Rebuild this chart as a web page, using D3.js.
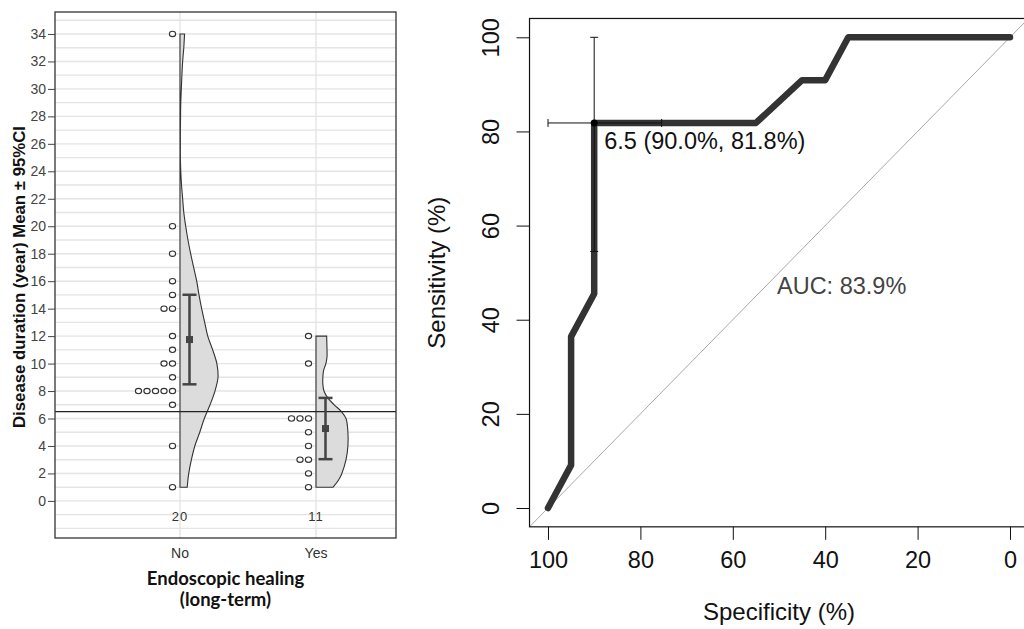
<!DOCTYPE html>
<html>
<head>
<meta charset="utf-8">
<script src="https://cdn.jsdelivr.net/npm/d3@7"></script>
<style>
  body { margin: 0; background: #fff; }
  svg { display: block; }
</style>
</head>
<body>
<div id="chart"></div>
<script>
// ---- data: left panel (raincloud) ----
const groups = ['No', 'Yes'];
const noValues = [34, 20, 18, 16, 15, 14, 14, 12, 11, 10, 10, 9, 8, 8, 8, 8, 8, 7, 4, 1];
const yesValues = [12, 10, 6, 6, 6, 5, 4, 3, 3, 2, 1];
const groupN = [20, 11];
const groupMean = [11.75, 5.27];
const ciLower = [8.49, 3.04];
const ciUpper = [15.01, 7.50];
const cutoff = 6.5;
const leftTicks = [0, 2, 4, 6, 8, 10, 12, 14, 16, 18, 20, 22, 24, 26, 28, 30, 32, 34];

// half-violin outline (value, relative density)
const noDensityAt = [1, 2, 3, 4, 5, 6, 7, 8, 9, 10, 11, 12, 13, 14, 15, 16, 17, 18, 19, 20, 21, 22, 23, 24, 25, 26, 27, 28, 29, 30, 31, 32, 33, 34];
const noDensity = [0.19, 0.23, 0.30, 0.39, 0.52, 0.64, 0.79, 0.92, 1.0, 0.97, 0.86, 0.73, 0.65, 0.57, 0.50, 0.44, 0.36, 0.28, 0.21, 0.15, 0.10, 0.07, 0.04, 0.02, 0.01, 0.01, 0.01, 0.015, 0.02, 0.035, 0.05, 0.07, 0.10, 0.12];
const yesDensityAt = [1, 1.5, 2, 3, 4, 5, 6, 6.5, 7, 7.5, 8, 8.5, 9, 9.5, 10, 10.5, 11, 12];
const yesDensity = [0.45, 0.59, 0.68, 0.79, 0.84, 0.84, 0.79, 0.67, 0.48, 0.31, 0.21, 0.18, 0.18, 0.20, 0.26, 0.29, 0.29, 0.28];

// ---- data: right panel (ROC) ----
const rocSpecificity = [100, 95, 95, 90, 90, 55, 45, 40, 35, 0];
const rocSensitivity = [0, 9.1, 36.4, 45.5, 81.8, 81.8, 90.9, 90.9, 100, 100];
const rocTicks = [0, 20, 40, 60, 80, 100];
const thresholdPoint = { spec: 90, sens: 81.8, label: '6.5 (90.0%, 81.8%)' };
const thresholdSpecCI = [75.4, 100];
const thresholdSensCI = [54.5, 100];
const aucLabel = 'AUC: 83.9%';

const svg = d3.select('#chart').append('svg')
  .attr('width', 1024)
  .attr('height', 629);

// ================= left panel =================
const frameL = { left: 55, right: 396, top: 12, bottom: 538 };
const yL = d3.scaleLinear().domain([-2.7, 35.6]).range([frameL.bottom, frameL.top]);
const xL = d3.scalePoint().domain(groups).range([180, 316]);
const wL = d3.scaleLinear().domain([0, 1]).range([0, 38]);
const fontL = 'Liberation Sans, Arial, sans-serif';

const left = svg.append('g');

// grid
left.selectAll('.hgrid')
  .data(d3.range(-2, 36))
  .join('line')
  .attr('x1', frameL.left).attr('x2', frameL.right)
  .attr('y1', d => yL(d)).attr('y2', d => yL(d))
  .attr('stroke', '#e4e4e4').attr('stroke-width', 1.4);

left.selectAll('.vgrid')
  .data(groups)
  .join('line')
  .attr('x1', d => xL(d)).attr('x2', d => xL(d))
  .attr('y1', frameL.top).attr('y2', frameL.bottom)
  .attr('stroke', '#e4e4e4').attr('stroke-width', 1.4);

// half violins
const violins = [
  { g: 'No', at: noDensityAt, d: noDensity },
  { g: 'Yes', at: yesDensityAt, d: yesDensity }
];
violins.forEach(v => {
  const x0 = xL(v.g);
  const pts = v.at.map((a, i) => [x0 + wL(v.d[i]), yL(a)]);
  const area = d3.line().curve(d3.curveCatmullRom)(pts);
  const top = pts[pts.length - 1];
  const bot = pts[0];
  left.append('path')
    .attr('d', `M${x0},${bot[1]}` + 'L' + area.slice(1) + `L${x0},${top[1]}Z`)
    .attr('fill', '#dcdcdc')
    .attr('stroke', '#333')
    .attr('stroke-width', 1.1);
});

// cutoff line
left.append('line')
  .attr('x1', frameL.left).attr('x2', frameL.right)
  .attr('y1', yL(cutoff)).attr('y2', yL(cutoff))
  .attr('stroke', '#222').attr('stroke-width', 1.2);

// dots (stacked to the left of each group)
[noValues, yesValues].forEach((vals, gi) => {
  const counts = {};
  vals.forEach(v => {
    const k = counts[v] || 0;
    counts[v] = k + 1;
    left.append('ellipse')
      .attr('cx', xL(groups[gi]) - 7.5 - k * 8.5)
      .attr('cy', yL(v))
      .attr('rx', 3.1)
      .attr('ry', 2.7)
      .attr('fill', '#fff')
      .attr('stroke', '#333')
      .attr('stroke-width', 1.1);
  });
});

// mean + CI
groups.forEach((g, i) => {
  const cx = xL(g) + 9.5;
  const eb = left.append('g').attr('stroke', '#444').attr('stroke-width', 2.5);
  eb.append('line').attr('x1', cx).attr('x2', cx).attr('y1', yL(ciLower[i])).attr('y2', yL(ciUpper[i]));
  eb.append('line').attr('x1', cx - 7).attr('x2', cx + 7).attr('y1', yL(ciLower[i])).attr('y2', yL(ciLower[i]));
  eb.append('line').attr('x1', cx - 7).attr('x2', cx + 7).attr('y1', yL(ciUpper[i])).attr('y2', yL(ciUpper[i]));
  left.append('rect')
    .attr('x', cx - 3.5).attr('y', yL(groupMean[i]) - 3.5)
    .attr('width', 7).attr('height', 7)
    .attr('fill', '#444');
  left.append('text')
    .attr('x', xL(g)).attr('y', yL(-1.15))
    .attr('dy', '0.35em')
    .attr('text-anchor', 'middle')
    .attr('font-family', fontL)
    .attr('font-size', 13)
    .attr('letter-spacing', 1)
    .attr('fill', '#333')
    .text(groupN[i]);
});

// frame
left.append('rect')
  .attr('x', frameL.left).attr('y', frameL.top)
  .attr('width', frameL.right - frameL.left).attr('height', frameL.bottom - frameL.top)
  .attr('fill', 'none').attr('stroke', '#333').attr('stroke-width', 1.3);

// y axis
const yAxisL = left.append('g')
  .attr('transform', `translate(${frameL.left},0)`)
  .call(d3.axisLeft(yL).tickValues(leftTicks).tickSize(7).tickPadding(2));
yAxisL.select('.domain').remove();
yAxisL.selectAll('line').attr('stroke', '#444');
yAxisL.selectAll('text')
  .attr('font-family', fontL)
  .attr('font-size', 14)
  .attr('fill', '#444');

// x labels
left.selectAll('.xlab')
  .data(groups)
  .join('text')
  .attr('x', d => xL(d)).attr('y', 553)
  .attr('dy', '0.35em')
  .attr('text-anchor', 'middle')
  .attr('font-family', fontL)
  .attr('font-size', 14)
  .attr('fill', '#333')
  .text(d => d);

// axis titles
const midL = (frameL.left + frameL.right) / 2;
['Endoscopic healing', '(long-term)'].forEach((t, i) => {
  left.append('text')
    .attr('x', midL).attr('y', 585 + i * 21)
    .attr('text-anchor', 'middle')
    .attr('font-family', 'Lato, Carlito, sans-serif')
    .attr('font-weight', 'bold')
    .attr('font-size', 18.5)
    .attr('fill', '#111')
    .text(t);
});

left.append('text')
  .attr('transform', `translate(25,${(frameL.top + frameL.bottom) / 2 + 2}) rotate(-90)`)
  .attr('text-anchor', 'middle')
  .attr('font-family', fontL)
  .attr('font-weight', 'bold')
  .attr('font-size', 16.8)
  .attr('fill', '#111')
  .text('Disease duration (year) Mean \u00b1 95%CI');

// ================= right panel (ROC) =================
const xR = d3.scaleLinear().domain([100, 0]).range([548, 1010]);
const yR = d3.scaleLinear().domain([0, 100]).range([508, 37.3]);
const right = svg.append('g');
const fontR = 'Liberation Sans, Arial, sans-serif';

// clip to plotting box
right.append('clipPath').attr('id', 'rocclip')
  .append('rect')
  .attr('x', xR(104)).attr('y', yR(104))
  .attr('width', xR(-4) - xR(104)).attr('height', yR(-4) - yR(104));

const plot = right.append('g').attr('clip-path', 'url(#rocclip)');

// chance diagonal
plot.append('line')
  .attr('x1', xR(104)).attr('y1', yR(-4))
  .attr('x2', xR(-4)).attr('y2', yR(104))
  .attr('stroke', '#a8a8a8').attr('stroke-width', 1);

// ROC curve
const rocData = rocSpecificity.map((s, i) => ({ spec: s, sens: rocSensitivity[i] }));
plot.append('path')
  .datum(rocData)
  .attr('d', d3.line().x(d => xR(d.spec)).y(d => yR(d.sens)))
  .attr('fill', 'none')
  .attr('stroke', '#333')
  .attr('stroke-width', 6.5)
  .attr('stroke-linejoin', 'round')
  .attr('stroke-linecap', 'round');

// threshold CI crosses
const tx = xR(thresholdPoint.spec), ty = yR(thresholdPoint.sens);
const ci = plot.append('g').attr('stroke', '#111').attr('stroke-width', 1);
ci.append('line').attr('x1', xR(thresholdSpecCI[1])).attr('x2', xR(thresholdSpecCI[0])).attr('y1', ty).attr('y2', ty);
ci.append('line').attr('x1', tx).attr('x2', tx).attr('y1', yR(thresholdSensCI[0])).attr('y2', yR(thresholdSensCI[1]));
thresholdSpecCI.forEach(s => ci.append('line').attr('x1', xR(s)).attr('x2', xR(s)).attr('y1', ty - 4).attr('y2', ty + 4));
thresholdSensCI.forEach(s => ci.append('line').attr('x1', tx - 4).attr('x2', tx + 4).attr('y1', yR(s)).attr('y2', yR(s)));
plot.append('circle').attr('cx', tx).attr('cy', ty).attr('r', 3.5).attr('fill', '#000');

plot.append('text')
  .attr('x', tx + 10).attr('y', ty + 26)
  .attr('font-family', fontR)
  .attr('font-size', 23.5)
  .attr('fill', '#111')
  .text(thresholdPoint.label);

plot.append('text')
  .attr('x', xR(50) - 2).attr('y', yR(50) + 21)
  .attr('font-family', fontR)
  .attr('font-size', 23.5)
  .attr('fill', '#444')
  .text(aucLabel);

// box
right.append('rect')
  .attr('x', xR(104)).attr('y', yR(104))
  .attr('width', xR(-4) - xR(104)).attr('height', yR(-4) - yR(104))
  .attr('fill', 'none').attr('stroke', '#111').attr('stroke-width', 1.2);

// axes
const xAxisR = right.append('g')
  .attr('transform', `translate(0,${yR(-4)})`)
  .call(d3.axisBottom(xR).tickValues(rocTicks).tickSize(13).tickPadding(12));
xAxisR.select('.domain').remove();
xAxisR.selectAll('line').attr('stroke', '#111');
xAxisR.selectAll('text').attr('font-family', fontR).attr('font-size', 23.5).attr('fill', '#111');

const yAxisR = right.append('g')
  .attr('transform', `translate(${xR(104)},0)`)
  .call(d3.axisLeft(yR).tickValues(rocTicks).tickSize(13).tickPadding(0));
yAxisR.select('.domain').remove();
yAxisR.selectAll('line').attr('stroke', '#111');
yAxisR.selectAll('text')
  .attr('font-family', fontR).attr('font-size', 23.5).attr('fill', '#111')
  .attr('text-anchor', 'middle')
  .attr('x', 0).attr('dy', 0)
  .attr('transform', 'translate(-39,0) rotate(-90)')
  .attr('dominant-baseline', 'central');

right.append('text')
  .attr('x', (xR(104) + xR(-4)) / 2).attr('y', 620)
  .attr('text-anchor', 'middle')
  .attr('font-family', fontR).attr('font-size', 24).attr('fill', '#111')
  .text('Specificity (%)');

right.append('text')
  .attr('transform', `translate(445,${(yR(104) + yR(-4)) / 2}) rotate(-90)`)
  .attr('text-anchor', 'middle')
  .attr('font-family', fontR).attr('font-size', 24).attr('fill', '#111')
  .text('Sensitivity (%)');
</script>
</body>
</html>
